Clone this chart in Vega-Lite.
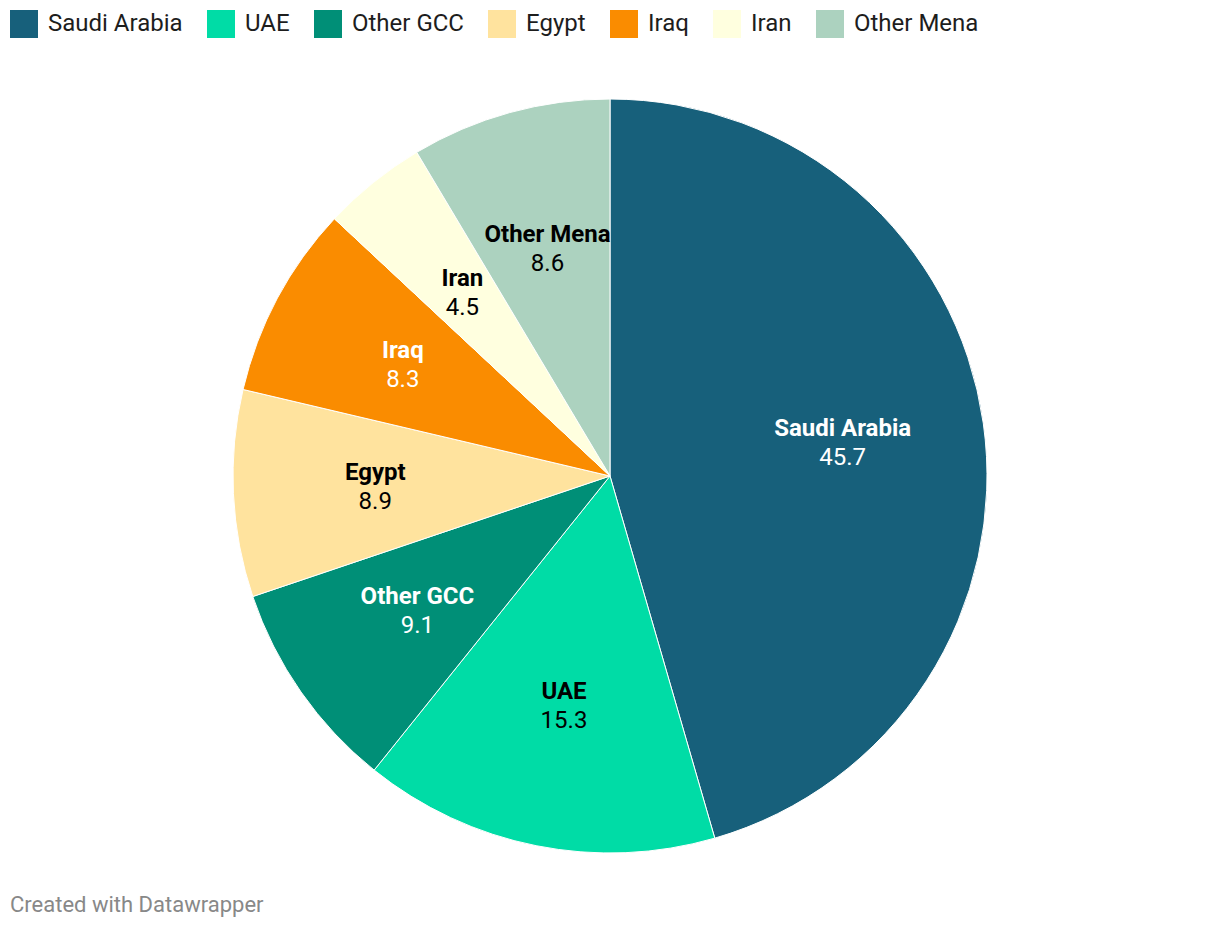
{
  "$schema": "https://vega.github.io/schema/vega-lite/v6.json",
  "width": 1220,
  "height": 828,
  "autosize": {"type": "none"},
  "padding": {"top": 62, "bottom": 40, "left": 0, "right": 0},
  "background": "white",
  "config": {"view": {"stroke": null}, "font": "Roboto"},
  "title": {
    "text": "Created with Datawrapper",
    "orient": "bottom",
    "anchor": "start",
    "dx": 10,
    "offset": 5,
    "fontSize": 22,
    "fontWeight": "normal",
    "color": "#888888",
    "font": "Roboto"
  },
  "data": {
    "values": [
      {"idx": 1, "country": "Saudi Arabia", "value": 45.7},
      {"idx": 2, "country": "UAE", "value": 15.3},
      {"idx": 3, "country": "Other GCC", "value": 9.1},
      {"idx": 4, "country": "Egypt", "value": 8.9},
      {"idx": 5, "country": "Iraq", "value": 8.3},
      {"idx": 6, "country": "Iran", "value": 4.5},
      {"idx": 7, "country": "Other Mena", "value": 8.6}
    ]
  },
  "encoding": {
    "theta": {"field": "value", "type": "quantitative", "stack": true},
    "order": {"field": "idx", "type": "quantitative"}
  },
  "layer": [
    {
      "mark": {"type": "arc", "outerRadius": 377, "stroke": "white", "strokeWidth": 1},
      "encoding": {
        "color": {
          "field": "country",
          "type": "nominal",
          "scale": {
            "domain": ["Saudi Arabia", "UAE", "Other GCC", "Egypt", "Iraq", "Iran", "Other Mena"],
            "range": ["#17607b", "#00dca6", "#008f77", "#ffe39e", "#fa8c00", "#ffffdf", "#acd2bf"]
          },
          "legend": {
            "title": null,
            "orient": "none",
            "legendX": 10,
            "legendY": -52,
            "direction": "horizontal",
            "symbolType": "square",
            "symbolSize": 784,
            "symbolStrokeWidth": 0,
            "symbolOpacity": 1,
            "labelFontSize": 24,
            "labelFont": "Roboto",
            "labelColor": "#1d1d1d",
            "labelOffset": 10,
            "columnPadding": 24,
            "labelLimit": 400
          }
        }
      }
    },
    {
      "mark": {"type": "text", "radius": 235, "dy": -14, "fontSize": 24, "fontWeight": "bold", "font": "Roboto"},
      "encoding": {
        "text": {"field": "country"},
        "color": {
          "condition": {"test": "indexof(['Saudi Arabia','Other GCC','Iraq'], datum.country) >= 0", "value": "white"},
          "value": "black"
        }
      }
    },
    {
      "mark": {"type": "text", "radius": 235, "dy": 15, "fontSize": 24, "font": "Roboto"},
      "encoding": {
        "text": {"field": "value", "format": ".1f"},
        "color": {
          "condition": {"test": "indexof(['Saudi Arabia','Other GCC','Iraq'], datum.country) >= 0", "value": "white"},
          "value": "black"
        }
      }
    }
  ]
}
